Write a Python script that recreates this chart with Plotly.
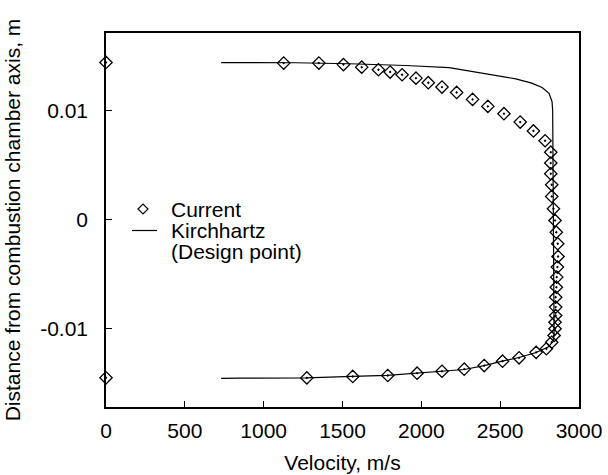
import plotly.graph_objects as go

# Current (markers)
cur_v = [0, 1127, 1350, 1506, 1622, 1728, 1802, 1878, 1966, 2044, 2131, 2224, 2325, 2422,
         2524, 2627, 2711, 2785, 2821, 2821, 2821, 2827, 2827, 2838, 2848, 2856, 2865,
         2867, 2863, 2859, 2856, 2852, 2852, 2852, 2848, 2848, 2842, 2827, 2793, 2728,
         2620, 2515, 2399, 2272, 2131, 1973, 1787, 1565, 1274, 0]
cur_y = [0.0144, 0.01434, 0.01434, 0.01420, 0.01397, 0.01373, 0.01352, 0.01327, 0.01296,
         0.01254, 0.01214, 0.01165, 0.01101, 0.01037, 0.00970, 0.00893, 0.00812, 0.00722,
         0.00617, 0.00517, 0.00419, 0.00318, 0.00211, 0.00098, -0.00009, -0.00117,
         -0.00223, -0.00340, -0.00437, -0.00529, -0.00621, -0.00713, -0.00804, -0.00881,
         -0.00942, -0.01003, -0.01064, -0.01126, -0.01186, -0.01219, -0.01269, -0.01300,
         -0.01340, -0.01373, -0.01392, -0.01410, -0.01431, -0.01440, -0.01453, -0.01452]

# Kirchhartz (Design point) line
kir_v = [730, 1200, 1544, 1900, 2177, 2388, 2599, 2700, 2766, 2810, 2829, 2833, 2835,
         2837, 2840, 2842, 2835, 2804, 2728, 2620, 2513, 2399, 2272, 2131, 1973, 1785,
         1563, 1272, 848, 730]
kir_y = [0.01438, 0.01437, 0.01428, 0.01412, 0.01392, 0.01342, 0.0129, 0.0125, 0.0121,
         0.01156, 0.0108, 0.0100, 0.0060, 0.0, -0.0060, -0.0105, -0.0112, -0.0117,
         -0.0122, -0.01266, -0.0130, -0.0134, -0.01376, -0.01392, -0.0141, -0.0143,
         -0.0144, -0.01453, -0.01456, -0.01457]

x_ticks = [0, 500, 1000, 1500, 2000, 2500, 3000]
y_ticks = [-0.01, 0, 0.01]
y_ticktext = ["-0.01", "0", "0.01"]

legend_texts = ["Current", "Kirchhartz", "(Design point)"]

FONT = "Liberation Sans, Arial, Helvetica, sans-serif"
FS = 21

fig = go.Figure()
fig.add_trace(go.Scatter(
    x=kir_v, y=kir_y, mode="lines", name="Kirchhartz",
    line=dict(color="black", width=1.2), showlegend=False))
fig.add_trace(go.Scatter(
    x=cur_v, y=cur_y, mode="markers", name="Current",
    marker=dict(symbol="diamond-open-dot", size=9.5, color="black",
                line=dict(color="black", width=1.3)),
    cliponaxis=False, showlegend=False))

# manual legend (paper coordinates)
L, R, T, B = 106, 579, 33, 407
W, H = R - L, B - T
def px(x):
    return (x - L) / W
def py(y):
    return (B - y) / H

cx, cy, d = 143, 209, 5
fig.add_shape(type="path", xref="paper", yref="paper",
              path=f"M {px(cx-d)} {py(cy)} L {px(cx)} {py(cy-d)} L {px(cx+d)} {py(cy)} L {px(cx)} {py(cy+d)} Z",
              line=dict(color="black", width=1.2), fillcolor="white")
fig.add_shape(type="line", xref="paper", yref="paper",
              x0=px(132), x1=px(157), y0=py(230.5), y1=py(230.5),
              line=dict(color="black", width=1.2))
for txt, yy, hh in zip(legend_texts, [209, 230, 251], [20, 18, 25]):
    fig.add_annotation(text=txt, xref="paper", yref="paper", x=px(170), y=py(yy),
                       xanchor="left", yanchor="middle", showarrow=False,
                       height=hh, valign="middle", borderpad=0,
                       font=dict(family=FONT, size=FS, color="black"))

axis_common = dict(showgrid=False, zeroline=False, showline=True, mirror=True,
                   linecolor="black", linewidth=1.5, ticks="inside", ticklen=6,
                   tickcolor="black", tickwidth=1, automargin=False,
                   tickfont=dict(family=FONT, size=FS, color="black"))

fig.update_layout(
    width=608, height=475,
    margin=dict(l=L, r=608 - R, t=T, b=475 - B),
    paper_bgcolor="white", plot_bgcolor="white",
    font=dict(family=FONT, size=FS, color="black"),
    xaxis=dict(range=[0, 3000], tickvals=x_ticks,
               title=dict(text="Velocity, m/s", font=dict(family=FONT, size=FS), standoff=14),
               ticklabelstandoff=4, **axis_common),
    yaxis=dict(range=[-0.0172, 0.0171], tickvals=y_ticks, ticktext=y_ticktext,
               title=dict(text="Distance from combustion chamber axis, m",
                          font=dict(family=FONT, size=FS), standoff=14),
               ticklabelstandoff=12, **axis_common),
)

fig.write_html("out.html")
